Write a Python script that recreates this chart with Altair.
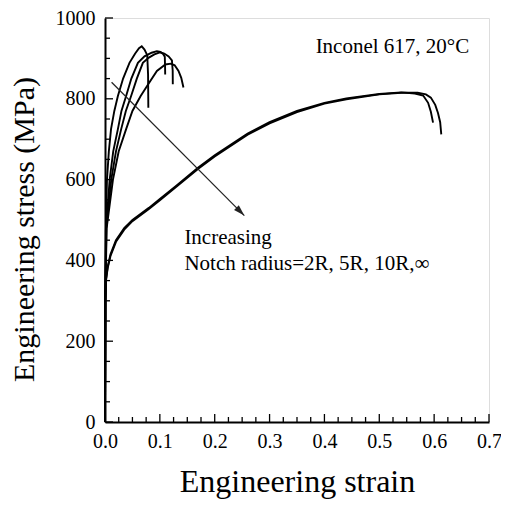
import altair as alt
import pandas as pd

# ---- data ----
# smooth specimens (notch radius = infinity), two tests
l1_strain = [0, 0.0005, 0.002, 0.005, 0.01, 0.02, 0.035, 0.05, 0.08, 0.1, 0.13, 0.17, 0.2, 0.26, 0.3, 0.35, 0.4, 0.44, 0.5, 0.54, 0.565, 0.58, 0.589, 0.594, 0.598]
l1_stress = [0, 300, 355, 385, 415, 450, 480, 500, 530, 552, 585, 630, 660, 714, 742, 770, 790, 801, 812, 816, 813, 808, 790, 768, 741]
l2_strain = [0, 0.0005, 0.002, 0.005, 0.01, 0.02, 0.035, 0.05, 0.08, 0.1, 0.13, 0.17, 0.2, 0.26, 0.3, 0.35, 0.4, 0.44, 0.5, 0.54, 0.57, 0.585, 0.594, 0.602, 0.607, 0.611, 0.613]
l2_stress = [0, 300, 352, 382, 411, 446, 476, 497, 527, 549, 582, 627, 657, 711, 739, 767, 788, 799, 811, 815, 815, 811, 803, 785, 765, 742, 712]

# notched specimens
a_strain = [0, 0.0005, 0.0015, 0.0036, 0.007, 0.011, 0.017, 0.0235, 0.033, 0.0446, 0.055, 0.062, 0.067, 0.072, 0.077, 0.0785, 0.079]
a_stress = [0, 300, 470, 600, 670, 725, 770, 807, 850, 889, 912, 925, 930, 922, 908, 860, 778]
b_strain = [0, 0.0005, 0.002, 0.0085, 0.015, 0.0235, 0.03, 0.0385, 0.048, 0.06, 0.072, 0.085, 0.0946, 0.101, 0.106, 0.109, 0.1095, 0.1097]
b_stress = [0, 300, 480, 600, 670, 725, 770, 807, 850, 889, 905, 914, 918, 916, 911, 904, 880, 860]
c_strain = [0, 0.0005, 0.0025, 0.0114, 0.02, 0.0295, 0.038, 0.0476, 0.058, 0.069, 0.08, 0.09, 0.1, 0.108, 0.116, 0.122, 0.1234, 0.1236]
c_stress = [0, 300, 480, 600, 670, 725, 770, 807, 850, 889, 902, 910, 915, 912, 905, 895, 870, 836]
d_strain = [0, 0.0005, 0.003, 0.0145, 0.025, 0.0385, 0.05, 0.065, 0.0826, 0.0946, 0.11, 0.12, 0.127, 0.134, 0.139, 0.143]
d_stress = [0, 300, 480, 600, 670, 725, 770, 807, 844, 869, 885, 887, 883, 869, 852, 828]

arrow_strain = [0.012, 0.254]
arrow_stress = [841, 511]

x_major = [0.0, 0.1, 0.2, 0.3, 0.4, 0.5, 0.6, 0.7]
x_minor = [0.025, 0.05, 0.075, 0.125, 0.15, 0.175, 0.225, 0.25, 0.275, 0.325, 0.35, 0.375,
           0.425, 0.45, 0.475, 0.525, 0.55, 0.575, 0.625, 0.65, 0.675]
y_major = [0, 200, 400, 600, 800, 1000]
y_minor = [50, 100, 150, 250, 300, 350, 450, 500, 550, 650, 700, 750, 850, 900, 950]

title_text = "Inconel 617, 20°C"
note_line1 = "Increasing"
note_line2 = "Notch radius=2R, 5R, 10R,∞"

# ---- tables ----
series = [("L1", l1_strain, l1_stress), ("L2", l2_strain, l2_stress),
          ("A", a_strain, a_stress), ("B", b_strain, b_stress),
          ("C", c_strain, c_stress), ("D", d_strain, d_stress)]
rows = []
for name, xs, ys in series:
    for i, (x, y) in enumerate(zip(xs, ys)):
        rows.append({"curve": name, "strain": x, "stress": y, "i": i})
df = pd.DataFrame(rows)

arrow_df = pd.DataFrame({"strain": arrow_strain, "stress": arrow_stress})
head_df = arrow_df.iloc[[-1]]

FONT = "Liberation Serif"
W, H = 384, 404
xscale = alt.Scale(domain=[0, 0.7], nice=False, zero=False)
yscale = alt.Scale(domain=[0, 1000], nice=False)

xaxis = alt.Axis(values=x_major, format=".1f", title="Engineering strain",
                 ticks=False, grid=False, labelPadding=9, labelFlush=False,
                 labelFontSize=20, labelColor="black", labelFont=FONT,
                 domainColor="black", domainWidth=2,
                 titleFont=FONT, titleFontSize=32, titleFontWeight="normal",
                 titleColor="black", titleX=W / 2, titleY=69,
                 titleBaseline="alphabetic", titleAlign="center")
yaxis = alt.Axis(values=y_major, format="d", title="Engineering stress (MPa)",
                 ticks=False, grid=False, labelPadding=10, labelFlush=False,
                 labelFontSize=20, labelColor="black", labelFont=FONT,
                 domainColor="black", domainWidth=2,
                 titleFont=FONT, titleFontSize=30, titleFontWeight="normal",
                 titleColor="black", titleX=-72, titleY=211, titleAngle=-90,
                 titleBaseline="alphabetic", titleAlign="center")

X = lambda: alt.X("strain:Q", scale=xscale, axis=xaxis)
Y = lambda: alt.Y("stress:Q", scale=yscale, axis=yaxis)

curves = alt.Chart(df).mark_line(color="black", strokeWidth=1.9).encode(
    x=X(), y=Y(), detail="curve:N", order="i:Q")

xmaj = alt.Chart(pd.DataFrame({"strain": x_major})).mark_rule(color="black", strokeWidth=1.3).encode(
    x=X(), y=alt.value(H), y2=alt.value(H - 8))
xmin = alt.Chart(pd.DataFrame({"strain": x_minor})).mark_rule(color="black", strokeWidth=1.3).encode(
    x=X(), y=alt.value(H), y2=alt.value(H - 5))
ymaj = alt.Chart(pd.DataFrame({"stress": y_major})).mark_rule(color="black", strokeWidth=1.3).encode(
    y=Y(), x=alt.value(0), x2=alt.value(8))
ymin = alt.Chart(pd.DataFrame({"stress": y_minor})).mark_rule(color="black", strokeWidth=1.3).encode(
    y=Y(), x=alt.value(0), x2=alt.value(5))

arrow_line = alt.Chart(arrow_df).mark_line(color="#222222", strokeWidth=1.2).encode(
    x=X(), y=Y())
arrow_head = alt.Chart(head_df).mark_point(
    shape="M0,0 L-0.3,-1 L0.3,-1 Z", size=500, angle=315, filled=True,
    color="#222222", opacity=1, strokeWidth=0).encode(x=X(), y=Y())

txt_kw = dict(font=FONT, fontSize=21, color="black", baseline="alphabetic")
t1 = alt.Chart().mark_text(align="right", **txt_kw).encode(
    x=alt.datum(0.664), y=alt.datum(914), text=alt.value(title_text))
t2 = alt.Chart().mark_text(align="left", **txt_kw).encode(
    x=alt.datum(0.1447), y=alt.datum(440), text=alt.value(note_line1))
t3 = alt.Chart().mark_text(align="left", **txt_kw).encode(
    x=alt.datum(0.1447), y=alt.datum(376), text=alt.value(note_line2))

chart = alt.layer(curves, xmaj, xmin, ymaj, ymin, arrow_line, arrow_head, t1, t2, t3).properties(
    width=W, height=H,
    autosize=alt.AutoSizeParams(type="none"),
    padding={"left": 97, "top": 10, "right": 12, "bottom": 77},
).configure_view(stroke="black", strokeWidth=1.5).configure(background="white")

chart.save("out.html", embed_options={"renderer": "svg", "actions": False})
